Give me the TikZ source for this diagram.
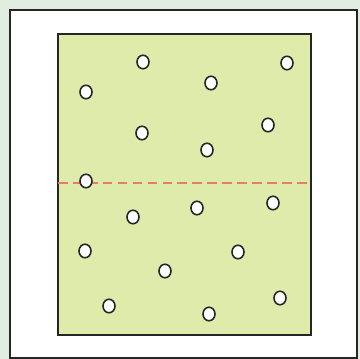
\documentclass[tikz,border=0pt]{standalone}
\usepackage{tikz}
\usetikzlibrary{shapes.geometric, positioning}

\definecolor{mintbg}{RGB}{226,237,226}
\definecolor{fieldgreen}{RGB}{222,235,170}
\definecolor{cutline}{RGB}{226,128,98}

\begin{document}
\begin{tikzpicture}[x=0.02cm, y=-0.02cm,
    frame/.style={draw=black!85, line width=1.1pt},
    cut/.style={draw=cutline, line width=0.8pt, dash pattern=on 5.5pt off 3pt},
    hole/.style={ellipse, draw=black!85, fill=white, line width=0.9pt, inner sep=0pt, minimum width=0.24cm, minimum height=0.27cm}]

    % page and frames
    \fill [mintbg] (0,0) rectangle (360,359);
    \useasboundingbox (0,0) rectangle (360,359);
    \draw [frame, fill=white] (10,10) rectangle (357,358);
    \draw [frame, fill=fieldgreen] (58,34) rectangle (311,335);

    % dashed cut line
    \coordinate (cutL) at (58,183);
    \coordinate (cutR) at (311,183);
    \draw [cut] (cutL) -- (cutR);

    % holes
    \foreach \px/\py [count=\i] in {143/62, 287/63, 211/83, 86/92, 268/125, 142/133,
        207/150, 86/181, 273/203, 197/208, 133/217, 85/251, 238/252, 165/271,
        280/298, 109/306, 209/314}
        \node [hole] (hole\i) at (\px,\py) {};
\end{tikzpicture}
\end{document}
